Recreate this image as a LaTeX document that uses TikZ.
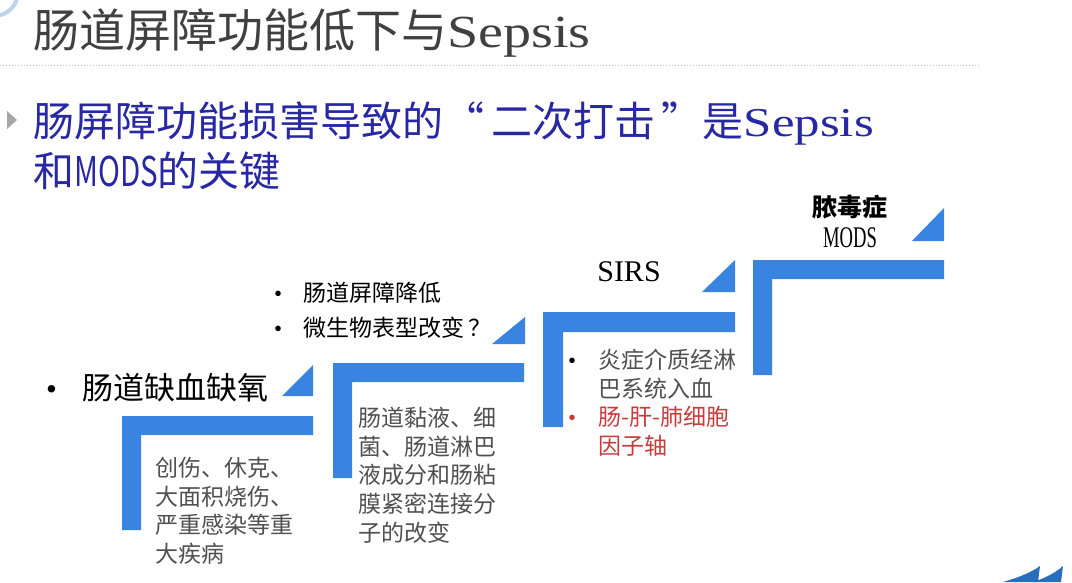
\documentclass[tikz,border=0pt]{standalone}
\usepackage{fontspec}
\setmainfont{Liberation Serif}
\newfontfamily\cjk{Noto Sans CJK SC}
\usepackage{graphicx}
\usepackage{xcolor}

\definecolor{stepblue}{RGB}{56,132,224}
\definecolor{titlegray}{RGB}{64,64,64}
\definecolor{keynavy}{RGB}{40,40,165}
\definecolor{notegray}{RGB}{80,80,80}
\definecolor{axisred}{RGB}{200,60,60}
\definecolor{decoblue}{RGB}{40,110,190}

\tikzset{
  bar/.style={fill=stepblue},
  note/.style={anchor=north west, inner sep=0pt, align=left, text=notegray,
    font=\cjk\fontsize{23}{28.6}\selectfont},
}

\begin{document}
\begin{tikzpicture}[x=1pt, y=-1pt]
  \useasboundingbox[fill=white] (0,0) rectangle (1072,582);

  % Corner decorations
  \draw[decoblue!30, line width=4pt] (-6,-8) circle (24);
  \fill[decoblue] (1003,582) .. controls (1020,577) and (1032,572) .. (1040,566) -- (1038,582) -- cycle;
  \fill[decoblue] (1033,582) .. controls (1048,577) and (1056,572) .. (1063,566) -- (1061,582) -- cycle;

  % Title
  \node[anchor=west, inner sep=0pt, text=titlegray, font=\cjk\fontsize{46}{50}\selectfont] (title) at (33,33)
    {肠道屏障功能低下与{\rmfamily\scalebox{1.22}[1]{Sepsis}}};
  \draw[gray!45, dotted, line width=1pt] (0,65) -- (980,65);

  % Key point
  \fill[gray!70] (7,111) -- (17,120) -- (7,129) -- cycle;
  \node[anchor=west, inner sep=0pt, align=left, text=keynavy, font=\cjk\fontsize{41}{50}\selectfont] (key) at (33,146)
    {肠屏障功能损害导致的“\,二次打击\,”是{\rmfamily\scalebox{1.24}[1]{Sepsis}}\\和\scalebox{0.72}[1]{MODS}的关键};

  % Step 1
  \fill[bar] (122,416) -- (313,416) -- (313,435) -- (141,435) -- (141,530) -- (122,530) -- cycle;
  \fill[bar] (282,396) -- (313,365) -- (313,396) -- cycle;
  \node[anchor=west, inner sep=0pt, font=\cjk\fontsize{31}{36}\selectfont] (ischemia) at (46,388)
    {{\rmfamily •}\hspace{25pt}肠道缺血缺氧};
  \node[note] (trauma) at (155,457) {创伤、休克、\\大面积烧伤、\\严重感染等重\\大疾病};

  % Step 2
  \fill[bar] (333,363) -- (524,363) -- (524,382) -- (352,382) -- (352,478) -- (333,478) -- cycle;
  \fill[bar] (492,344) -- (525,317) -- (525,344) -- cycle;
  \node[anchor=west, inner sep=0pt, align=left, font=\cjk\fontsize{23}{35}\selectfont] (barrier) at (274,310)
    {{\rmfamily •}\hspace{21pt}肠道屏障降低\\{\rmfamily •}\hspace{21pt}微生物表型改变\,？};
  \node[note] (mucus) at (358,407) {肠道黏液、细\\菌、肠道淋巴\\液成分和肠粘\\膜紧密连接分\\子的改变};

  % Step 3
  \fill[bar] (543,312) -- (735,312) -- (735,332) -- (563,332) -- (563,427) -- (543,427) -- cycle;
  \fill[bar] (702,292) -- (735,260) -- (735,292) -- cycle;
  \node[font=\fontsize{30}{34}\selectfont] (sirs) at (629,272) {SIRS};
  \node[note] (lymph) at (568,349)
    {{\rmfamily\color{black}•}\hspace{22pt}炎症介质经淋\\\hspace{30pt}巴系统入血\\
     {\rmfamily\color{axisred}•}\hspace{22pt}{\color{axisred}肠-肝-肺细胞}\\\hspace{30pt}{\color{axisred}因子轴}};

  % Step 4
  \fill[bar] (753,260) -- (944,260) -- (944,279) -- (772,279) -- (772,375) -- (753,375) -- cycle;
  \fill[bar] (912,241) -- (944,208) -- (944,241) -- cycle;
  \node[align=center, font=\fontsize{25}{31}\selectfont] (sepsis) at (850,221)
    {{\cjk\bfseries 脓毒症}\\{\fontsize{30}{31}\selectfont\scalebox{0.62}[1]{MODS}}};
\end{tikzpicture}
\end{document}
